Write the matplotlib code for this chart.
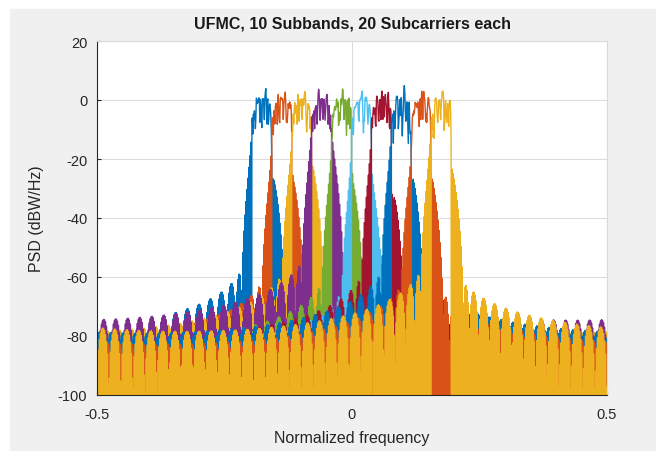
import numpy as np
import matplotlib
matplotlib.use("Agg")
import matplotlib.pyplot as plt
from matplotlib.patches import Rectangle

# UFMC setup (as in the chart title)
NUM_FFT = 512
SUBBAND_SIZE = 20
NUM_SUBBANDS = 10
SUBBAND_OFFSET = 156
FILTER_LEN = 43
SLOBE_ATTEN = 40

# 16-QAM symbol indices per subband, one hex digit per subcarrier
subband_symbols = [
    "be79f28be6bda38e52d5",
    "e97286f9e71a8f697e82",
    "ab2e86f97e92bc697e95",
    "be7bda3ca7e9b6d3aea9",
    "6bd287ea5b2ca79e53a8",
    "d6b82d7a4e39ad74a2d6",
    "bd2b6cb6da36db86f1a4",
    "e7b92cb6eb5a3ca79e55",
    "97e82bd6b5ca3e9683e5",
    "beab0e6bda70e9b6e938",
]

xticks = [-0.5, 0, 0.5]
yticks = [-100, -80, -60, -40, -20, 0, 20]

colors = ["#0072bd", "#d95319", "#edb120", "#7e2f8e", "#77ac30",
          "#4dbeee", "#a2142f"]

plt.rcParams['font.family'] = ['Liberation Sans', 'DejaVu Sans']
plt.rcParams['axes.unicode_minus'] = False


def chebwin(M, at):
    order = M - 1.0
    beta = np.cosh(1.0 / order * np.arccosh(10 ** (abs(at) / 20.0)))
    k = np.arange(M)
    x = beta * np.cos(np.pi * k / M)
    p = np.zeros(M)
    p[x > 1] = np.cosh(order * np.arccosh(x[x > 1]))
    p[x < -1] = (2 * (M % 2) - 1) * np.cosh(order * np.arccosh(-x[x < -1]))
    m = np.abs(x) <= 1
    p[m] = np.cos(order * np.arccos(x[m]))
    w = np.real(np.fft.fft(p))
    n = (M + 1) // 2
    w = w[:n]
    w = np.concatenate((w[n - 1:0:-1], w))
    return w / w.max()


def qam16(s):
    idx = np.array([int(c, 16) for c in s])
    return ((2 * (idx % 4) - 3) + 1j * (2 * (idx // 4) - 3)) / np.sqrt(10)


proto = chebwin(FILTER_LEN, SLOBE_ATTEN)

fig = plt.figure(figsize=(6.56, 4.52), dpi=100, facecolor='white')
fig.patches.append(Rectangle((10 / 656, 0), 1, 442 / 452, transform=fig.transFigure,
                             color='#f0f0f0', zorder=-10))
ax = fig.add_axes([97 / 656, 56 / 452, 510 / 656, 354 / 452])
ax.set_facecolor('white')

for b in range(NUM_SUBBANDS):
    sym = qam16(subband_symbols[b])
    off = SUBBAND_OFFSET + b * SUBBAND_SIZE
    full = np.zeros(NUM_FFT, dtype=complex)
    full[off:off + SUBBAND_SIZE] = sym
    ifft_out = np.fft.ifft(np.fft.ifftshift(full))
    n = np.arange(FILTER_LEN)
    band_filter = proto * np.exp(1j * 2 * np.pi * n / NUM_FFT *
                                 ((b + 0.5) * SUBBAND_SIZE + 0.5 + SUBBAND_OFFSET + NUM_FFT / 2))
    filt_out = np.convolve(band_filter, ifft_out)
    X = np.fft.fftshift(np.fft.fft(filt_out, NUM_FFT * 2))
    psd = np.abs(X) ** 2 / len(filt_out)
    f = np.arange(-NUM_FFT, NUM_FFT) / (NUM_FFT * 2)
    ax.plot(f, 10 * np.log10(psd + 1e-30), color=colors[b % len(colors)], lw=1.0)

ax.set_xlim(-0.5, 0.5)
ax.set_ylim(-100, 20)
ax.set_xticks(xticks)
ax.set_xticklabels(['-0.5', '0', '0.5'])
ax.set_yticks(yticks)
ax.grid(True, color='#dcdcdc', lw=0.8)
ax.set_axisbelow(True)
ax.tick_params(direction='in', length=3, colors='#262626', labelsize=10.5)
ax.tick_params(axis='x', pad=9)
ax.tick_params(axis='y', pad=7)
for s in ['left', 'bottom']:
    ax.spines[s].set_color('#262626')
for s in ['top', 'right']:
    ax.spines[s].set_color('#d9d9d9')
ax.set_xlabel('Normalized frequency', fontsize=11.5, color='#262626', labelpad=6)
ax.set_ylabel('PSD (dBW/Hz)', fontsize=11.5, color='#262626', labelpad=10)
ax.set_title('UFMC, 10 Subbands, 20 Subcarriers each', fontsize=11.5, fontweight='bold',
             color='#1a1a1a', pad=10)

fig.savefig('out.png', dpi=100, facecolor=fig.get_facecolor())
